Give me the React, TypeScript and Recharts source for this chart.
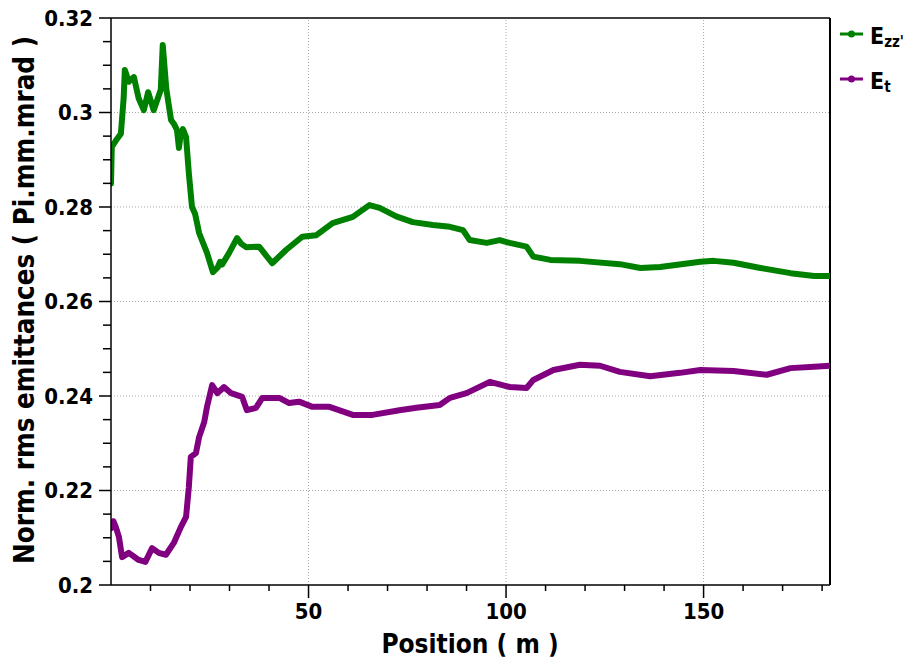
import { Label, Line, LineChart, ReferenceLine, XAxis, YAxis } from "recharts";

// [position (m), emittance]
const ezzPoints: [number, number][] = [
  [0, 0.285], [0.2, 0.2927], [1.2, 0.294], [2.5, 0.2955], [3.2, 0.303], [3.5, 0.309], [4.5, 0.3065],
  [5.8, 0.3075], [7, 0.303], [8.3, 0.3005], [9.4, 0.3043], [10.8, 0.3005], [12.6, 0.3048],
  [13.1, 0.3143], [14, 0.305], [15.2, 0.2984], [16, 0.2975], [16.7, 0.2963], [17.2, 0.2925],
  [17.5, 0.2945], [18.2, 0.2965], [19, 0.2948], [19.7, 0.2872], [20.5, 0.28], [21.3, 0.2785],
  [22.3, 0.2745], [24.3, 0.2703], [25.8, 0.2662], [27, 0.2672], [27.6, 0.2684], [28.1, 0.2678],
  [29.9, 0.2703], [31.9, 0.2734], [33, 0.2722], [34.2, 0.2715], [37.5, 0.2716], [40.8, 0.2681],
  [44.3, 0.2709], [48.4, 0.2737], [51.9, 0.274], [56.1, 0.2766],
  [61.2, 0.2779], [65.4, 0.2804], [68, 0.2798], [72.2, 0.278], [76.4, 0.2768], [81.5, 0.2762],
  [85.8, 0.2758], [89.1, 0.2751], [90.8, 0.273], [95.1, 0.2724], [98.4, 0.273], [100.9, 0.2724],
  [105.2, 0.2716], [106.9, 0.2695], [111.2, 0.2688], [118.7, 0.2686], [128.8, 0.2679],
  [134, 0.2671], [139, 0.2673], [149.2, 0.2684], [152.6, 0.2686], [157.6, 0.2682],
  [164.4, 0.2671], [172, 0.266], [178, 0.2654], [182, 0.2654]
];

const etPoints: [number, number][] = [
  [0, 0.212], [0.6, 0.2135], [1.2, 0.2123], [2, 0.2102], [2.8, 0.2059], [4.5, 0.2068],
  [7, 0.2053], [8.7, 0.2049], [10.4, 0.2078], [12.1, 0.2068], [13.9, 0.2064], [15.9, 0.2089],
  [17.7, 0.2123], [19, 0.2144], [19.7, 0.2207], [20.2, 0.2271], [21.5, 0.2279], [22.3, 0.2313],
  [23.6, 0.2345], [24.3, 0.2377], [25.6, 0.2423], [26.9, 0.2406], [28.6, 0.2419], [30.4, 0.2406],
  [33.2, 0.2398], [34.4, 0.237], [36.7, 0.2375], [38.3, 0.2396], [42.6, 0.2396], [45.1, 0.2385],
  [47.6, 0.2388], [51, 0.2377], [55.3, 0.2377], [61.2, 0.236], [66.2, 0.236], [73, 0.237],
  [77.3, 0.2375], [83.2, 0.2381], [85.8, 0.2396], [90, 0.2406], [95.9, 0.243], [101, 0.2419],
  [105.2, 0.2417], [106.9, 0.2434], [112, 0.2455], [118.7, 0.2466], [123.8, 0.2464],
  [128.8, 0.2451], [136.5, 0.2442], [144, 0.2449], [149.2, 0.2455], [157.6, 0.2453],
  [166, 0.2445], [172, 0.2459], [178, 0.2462], [182, 0.2464]
];

const xTicks = [10, 20, 30, 40, 50, 60, 70, 80, 90, 100, 110, 120, 130, 140, 150, 160, 170, 180];
const xMajorTicks = [50, 100, 150];
const yTicks = [
  0.2, 0.205, 0.21, 0.215, 0.22, 0.225, 0.23, 0.235, 0.24, 0.245, 0.25, 0.255, 0.26,
  0.265, 0.27, 0.275, 0.28, 0.285, 0.29, 0.295, 0.3, 0.305, 0.31, 0.315, 0.32
];
const yMajorTicks = [0.2, 0.22, 0.24, 0.26, 0.28, 0.3, 0.32];

const ezzData = ezzPoints.map(([x, v]) => ({ x, v }));
const etData = etPoints.map(([x, v]) => ({ x, v }));

const FONT = "'DejaVu Sans Condensed', 'DejaVu Sans', sans-serif";
const GREEN = "#008000";
const PURPLE = "#800080";
const GRID = "#a8a8a8";

const isMajor = (list: number[], v: number) => list.some((t) => Math.abs(t - v) < 1e-9);

function YTick(props: any) {
  const { x, y, payload } = props;
  const major = isMajor(yMajorTicks, payload.value);
  return (
    <g>
      <line x1={x - (major ? 12 : 8)} x2={x} y1={y} y2={y} stroke="#000" strokeWidth={1.5} />
      {major && (
        <text
          x={x - 18}
          y={y}
          dy="0.36em"
          textAnchor="end"
          fontFamily={FONT}
          fontWeight="bold"
          fontSize={22}
          fill="#000"
        >
          {String(Number(payload.value.toFixed(2)))}
        </text>
      )}
    </g>
  );
}

function XTick(props: any) {
  const { x, y, payload } = props;
  const major = isMajor(xMajorTicks, payload.value);
  return (
    <g>
      <line x1={x} x2={x} y1={y} y2={y + (major ? 13 : 6)} stroke="#000" strokeWidth={1.5} />
      {major && (
        <text
          x={x}
          y={y + 34}
          textAnchor="middle"
          fontFamily={FONT}
          fontWeight="bold"
          fontSize={22}
          fill="#000"
        >
          {payload.value}
        </text>
      )}
    </g>
  );
}

export default function App() {
  return (
    <div style={{ position: "absolute", left: 0, top: 0, width: 907, height: 665, background: "#fff" }}>
      <LineChart width={907} height={665} margin={{ top: 18, right: 77, bottom: 0, left: 0 }}>
        <XAxis
          dataKey="x"
          type="number"
          domain={[0, 182]}
          allowDataOverflow
          ticks={xTicks}
          interval={0}
          tick={<XTick />}
          tickLine={false}
          tickSize={0}
          tickMargin={0}
          height={80}
          axisLine={{ stroke: "#000", strokeWidth: 1.5 }}
        >
          <Label
            content={() => (
              <text x={470} y={653} textAnchor="middle" fontFamily={FONT} fontWeight="bold" fontSize={26} fill="#000">
                Position ( m )
              </text>
            )}
          />
        </XAxis>
        <YAxis
          type="number"
          domain={[0.2, 0.32]}
          allowDataOverflow
          ticks={yTicks}
          interval={0}
          tick={<YTick />}
          tickLine={false}
          tickSize={0}
          tickMargin={0}
          width={111}
          axisLine={{ stroke: "#000", strokeWidth: 1.5 }}
        >
          <Label
            content={() => (
              <text
                x={34}
                y={300}
                transform="rotate(-90 34 300)"
                textAnchor="middle"
                fontFamily={FONT}
                fontWeight="bold"
                fontSize={27.5}
                fill="#000"
              >
                Norm. rms emittances ( Pi.mm.mrad )
              </text>
            )}
          />
        </YAxis>
        {yMajorTicks.slice(1, -1).map((v) => (
          <ReferenceLine key={"gy" + v} y={v} stroke={GRID} strokeDasharray="1 2" />
        ))}
        {xMajorTicks.map((v) => (
          <ReferenceLine key={"gx" + v} x={v} stroke={GRID} strokeDasharray="1 2" />
        ))}
        <ReferenceLine y={0.32} stroke="#000" strokeWidth={1.5} />
        <ReferenceLine x={182} stroke="#000" strokeWidth={2} />
        <Line
          data={ezzData}
          dataKey="v"
          type="linear"
          stroke={GREEN}
          strokeWidth={6}
          strokeLinejoin="round"
          strokeLinecap="round"
          dot={false}
          isAnimationActive={false}
        />
        <Line
          data={etData}
          dataKey="v"
          type="linear"
          stroke={PURPLE}
          strokeWidth={6}
          strokeLinejoin="round"
          strokeLinecap="round"
          dot={false}
          isAnimationActive={false}
        />
      </LineChart>
      <svg
        width={907}
        height={665}
        style={{ position: "absolute", left: 0, top: 0, pointerEvents: "none" }}
      >
        <line x1={840} x2={863} y1={34} y2={34} stroke={GREEN} strokeWidth={3} />
        <circle cx={851.5} cy={34} r={3.5} fill={GREEN} />
        <text x={870} y={44} fontFamily={FONT} fontWeight="bold" fontSize={23} fill="#000">
          E<tspan fontSize={15} dy={3}>zz'</tspan>
        </text>
        <line x1={840} x2={863} y1={79} y2={79} stroke={PURPLE} strokeWidth={3} />
        <circle cx={851.5} cy={79} r={3.5} fill={PURPLE} />
        <text x={870} y={89} fontFamily={FONT} fontWeight="bold" fontSize={23} fill="#000">
          E<tspan fontSize={15} dy={3}>t</tspan>
        </text>
      </svg>
    </div>
  );
}
